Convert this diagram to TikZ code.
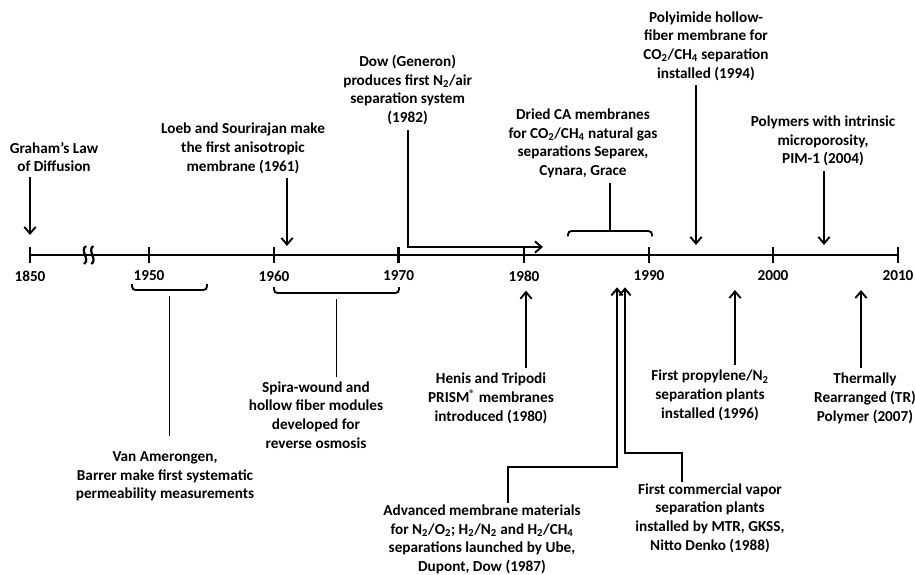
\documentclass[tikz,border=0pt]{standalone}
\usepackage{fontspec}
\setmainfont{Carlito}
\usetikzlibrary{arrows.meta,positioning}

\begin{document}
\begin{tikzpicture}[
  every node/.style={font=\bfseries\fontsize{13}{15.9}\selectfont},
  note/.style={align=center,inner sep=1pt},
  pointer/.style={-{Straight Barb[length=2mm,width=3.4mm]},line width=1.6pt,shorten <=3pt},
  link/.style={line width=1.6pt},
  axis/.style={line width=2.3pt},
  bracket/.style={line width=1.6pt,rounded corners=3pt}
]
  \useasboundingbox (0,0) rectangle (27.45,17.22);

  % Eje temporal con sus marcas y el corte 1850--1950.
  \draw[axis] (0.9,9.57) -- (26.94,9.57);
  \draw[axis] (0.9,9.33) -- (0.9,9.81);
  \draw[axis] (4.47,9.33) -- (4.47,9.81);
  \draw[axis] (8.22,9.33) -- (8.22,9.81);
  \draw[axis] (11.96,9.33) -- (11.96,9.81);
  \draw[axis] (15.72,9.33) -- (15.72,9.81);
  \draw[axis] (19.47,9.33) -- (19.47,9.81);
  \draw[axis] (23.19,9.33) -- (23.19,9.81);
  \draw[axis] (26.94,9.33) -- (26.94,9.81);
  \draw[line width=1.9pt] (2.58,9.84) .. controls (2.38,9.70) and (2.72,9.44) .. (2.52,9.30);
  \draw[line width=1.9pt] (2.80,9.84) .. controls (2.60,9.70) and (2.94,9.44) .. (2.74,9.30);
  \node (y1850) at (0.9,8.94) {1850};
  \node (y1950) at (4.47,8.94) {1950};
  \node (y1960) at (8.22,8.94) {1960};
  \node (y1970) at (11.96,8.94) {1970};
  \node (y1980) at (15.72,8.94) {1980};
  \node (y1990) at (19.47,8.94) {1990};
  \node (y2000) at (23.19,8.94) {2000};
  \node (y2010) at (26.94,8.94) {2010};

  % Hitos sobre el eje.
  \node[note] (graham) at (1.62,12.51) {Graham’s Law\\of Diffusion};
  \node[note] (loeb) at (7.29,12.77) {Loeb and Sourirajan make\\the first anisotropic\\membrane (1961)};
  \node[note] (dow) at (12.23,14.52) {Dow (Generon)\\produces first N\textsubscript{2}/air\\separation system\\(1982)};
  \node[note] (dried) at (17.49,12.92) {Dried CA membranes\\for CO\textsubscript{2}/CH\textsubscript{4} natural gas\\separations Separex,\\Cynara, Grace};
  \node[note] (polyimide) at (21.18,15.84) {Polyimide hollow-\\fiber membrane for\\CO\textsubscript{2}/CH\textsubscript{4} separation\\installed (1994)};
  \node[note] (pim) at (24.69,12.99) {Polymers with intrinsic\\microporosity,\\PIM-1 (2004)};

  \coordinate (t1850) at (0.9,10.17);
  \coordinate (t1961) at (8.61,9.84);
  \coordinate (dowk) at (12.24,9.81);
  \coordinate (t1982) at (16.29,9.81);
  \coordinate (caTip) at (18.30,10.29);
  \coordinate (t1994) at (20.88,9.87);
  \coordinate (t2004) at (24.72,9.87);
  \draw[pointer] (graham.south -| t1850) -- (t1850);
  \draw[pointer] (loeb.south -| t1961) -- (t1961);
  \draw[pointer] (dow.south -| dowk) -- (dowk) -- (t1982);
  \draw[bracket] (17.04,10.13) |- (caTip) -| (19.56,10.13);
  \draw[link,shorten <=3pt] (dried.south -| caTip) -- (caTip);
  \draw[pointer] (polyimide.south -| t1994) -- (t1994);
  \draw[pointer] (pim.south -| t2004) -- (t2004);

  % Hitos bajo el eje.
  \node[note] (vanamer) at (4.95,2.93) {Van Amerongen,\\Barrer make first systematic\\permeability measurements};
  \node[note] (spira) at (9.48,4.77) {Spira-wound and\\hollow fiber modules\\developed for\\reverse osmosis};
  \node[note] (henis) at (14.73,5.27) {Henis and Tripodi\\PRISM\textsuperscript{®} membranes\\introduced (1980)};
  \node[note] (advanced) at (14.46,1.04) {Advanced membrane materials\\for N\textsubscript{2}/O\textsubscript{2}; H\textsubscript{2}/N\textsubscript{2} and H\textsubscript{2}/CH\textsubscript{4}\\separations launched by Ube,\\Dupont, Dow (1987)};
  \node[note] (vapor) at (21.30,1.68) {First commercial vapor\\separation plants\\installed by MTR, GKSS,\\Nitto Denko (1988)};
  \node[note] (propylene) at (21.30,5.36) {First propylene/N\textsubscript{2}\\separation plants\\installed (1996)};
  \node[note] (thermal) at (25.95,5.27) {Thermally\\Rearranged (TR)\\Polymer (2007)};

  \coordinate (vanTip) at (5.085,8.52);
  \coordinate (spiraTip) at (10.095,8.43);
  \coordinate (t1980) at (15.78,8.50);
  \coordinate (kA) at (15.24,3.21);
  \coordinate (t1987) at (18.51,8.60);
  \coordinate (kB) at (20.46,3.63);
  \coordinate (t1988) at (18.75,8.60);
  \coordinate (t1996) at (22.05,8.52);
  \coordinate (t2007) at (25.83,8.52);
  \draw[bracket] (3.96,8.70) |- (vanTip) -| (6.21,8.70);
  \draw[link,shorten <=5pt,shorten >=12pt] (vanTip) -- (vanamer.north -| vanTip);
  \draw[bracket] (8.22,8.61) |- (spiraTip) -| (11.97,8.61);
  \draw[link,shorten <=5pt,shorten >=3pt] (spiraTip) -- (spira.north -| spiraTip);
  \draw[pointer] (henis.north -| t1980) -- (t1980);
  \draw[pointer,shorten <=0pt] (advanced.north -| kA) -- (kA) -| (t1987);
  \draw[pointer,shorten <=0pt] (vapor.north -| kB) -- (kB) -| (t1988);
  \draw[pointer] (propylene.north -| t1996) -- (t1996);
  \draw[pointer] (thermal.north -| t2007) -- (t2007);
\end{tikzpicture}
\end{document}
